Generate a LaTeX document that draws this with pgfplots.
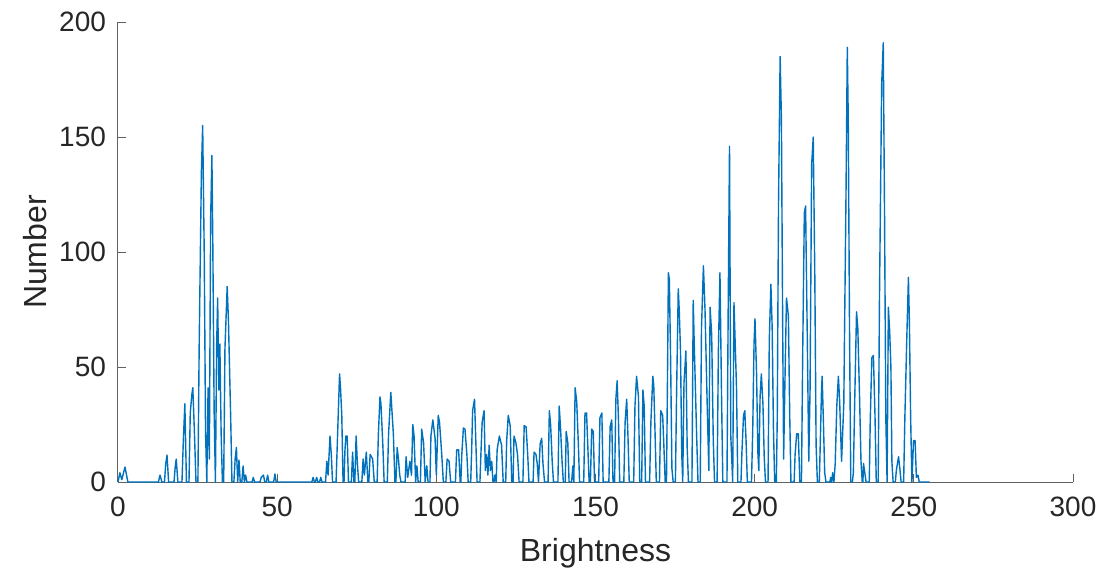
\documentclass[border=0pt]{standalone}
\usepackage{fontspec}
\setmainfont{Liberation Sans}
\usepackage{pgfplots}
\pgfplotsset{compat=1.18}
\definecolor{mblue}{rgb}{0,0.447,0.741}
\definecolor{axgray}{rgb}{0.38,0.38,0.38}
\definecolor{txtgray}{rgb}{0.15,0.15,0.15}
\begin{document}
\begin{tikzpicture}
\begin{axis}[
  scale only axis,
  width=477.5pt, height=230pt,
  xmin=0, xmax=300, ymin=0, ymax=200,
  axis lines=left,
  axis line style={-, draw=axgray, line width=0.5pt},
  tick align=inside,
  major tick length=4pt,
  tick style={draw=axgray, line width=0.5pt},
  xtick={0,50,100,150,200,250,300},
  ytick={0,50,100,150,200},
  /pgf/number format/assume math mode=true,
  ticklabel style={font=\fontsize{14}{16}\selectfont, text=txtgray},
  xticklabel style={yshift=-4pt},
  yticklabel style={xshift=-2.5pt},
  label style={font=\fontsize{16}{18}\selectfont, text=txtgray},
  xlabel={Brightness},
  ylabel={Number},
  xlabel style={at={(axis description cs:0.5,-0.155)}, anchor=center},
  ylabel style={at={(axis description cs:-0.0869,0.5)}, anchor=center},
  clip=false,
]
\addplot[mblue, line width=0.7pt, line join=round] coordinates {
(0,0)(0.6,4)(1.2,1)(2.2,6.5)(3.1,0)
(12.7,0)(13.2,3)(13.8,0)(14.6,0)(15,8)(15.4,11.7)(15.9,0)
(17.6,0)(18,7)(18.3,10)(18.8,0)
(20.1,0)(20.5,17)(21,34)(21.5,0)
(22.3,0)(22.7,30)(23.2,38)(23.5,41)(24,22)(24.5,0)
(25.1,0)(25.5,59)(26.2,135)(26.6,155)(27.1,98)(27.5,22)(27.9,0)
(28.3,41)(28.7,10)(29.1,114)(29.5,142)(29.8,101)(30.2,31)(30.6,0)
(31,60)(31.3,80)(31.7,40)(32,60)(32.4,21)(32.8,0)
(33.2,0)(33.6,58)(34.3,85)(34.7,70)(35.4,28)(35.8,0)
(36.4,0)(36.8,10)(37.2,15)(37.6,0)(38,9.5)(38.4,0)
(38.9,0)(39.3,7)(39.7,0)(40.1,3)(40.5,0)
(42.1,0)(42.5,2)(42.9,0)
(44.6,0)(45,2)(45.7,3)(46.1,0)
(46.6,0)(47,3)(47.4,0)
(48.9,0)(49.3,3.5)(49.7,0)
(60.9,0)(61.3,2)(61.7,0)(62,0)(62.4,2)(62.8,0)(63.3,0)(63.7,2)(64.1,0)
(65.2,0)(65.6,9)(66,3)(66.6,20)(67,12)(67.4,0)
(68.5,0)(68.9,17)(69.6,47)(69.9,41)(70.3,29)(70.7,0)
(71,0)(71.3,14)(71.6,20)(72,20)(72.4,0)
(73.3,0)(73.7,13)(74.1,0)(74.4,0)(74.8,20)(75.2,8)(75.6,0)
(76.6,0)(77,10)(77.4,3)(78,13)(78.5,0)(78.8,0)(79.2,12)(80,10)(80.5,0)
(81.4,0)(81.8,21)(82.3,37)(82.6,34)(83.2,16)(83.6,0)
(84.6,0)(85,21)(85.7,39)(86.5,21)(87,0)(87.3,0)(87.7,15)(88.1,10)(88.5,3)(88.9,0)
(90.2,0)(90.5,11)(91,2)(91.7,9)(92.2,3)(92.6,25)(93,20)(93.5,0)(93.9,7)(94.3,0)
(95,0)(95.4,23)(96,17)(96.5,0)(97,7)(97.4,0)
(98,0)(98.3,20)(98.9,27)(99.6,19)(100,3)(100.6,29)(101,26)(101.7,12)(102.2,0)
(103,0)(103.4,10)(104,9)(104.5,0)
(106,0)(106.4,14)(107,14)(107.5,0)
(107.7,0)(108,12)(108.5,23.5)(109,23)(109.6,12)(110,0)
(110.8,0)(111.1,14)(111.4,31)(112,36)(112.4,18)(112.8,0)
(113.7,0)(114,12)(114.4,26)(115,31)(115.4,5)(115.8,12)(116.2,3)(116.6,16)(117,5)(117.4,9)(117.8,0)
(118.1,0)(118.4,3)(118.8,0)(119.1,14)(119.8,20)(120.5,16)(121,0)
(121.8,0)(122.1,18)(122.6,29)(123.2,24.5)(123.7,0)
(124.1,0)(124.4,20)(125,17)(125.5,12)(126,0)
(127.2,0)(127.6,24.5)(128.2,24)(128.7,12)(129.1,0)
(130.4,0)(130.7,13)(131.3,12)(131.7,8)(132.1,0)(132.6,16.5)(133.1,19)(133.5,8)(134,0)
(135.1,0)(135.5,31)(135.9,25)(136.4,9)(136.8,0)
(138.2,0)(138.6,33)(139,24)(139.5,9)(139.9,0)
(140.5,0)(140.8,22)(141.3,17)(141.7,0)
(142.5,0)(142.9,7)(143.2,0)(143.6,41)(144.1,35)(144.6,17)(145,0)
(146.3,0)(146.7,30)(147.2,30)(147.6,15)(148,0)
(148.4,0)(148.8,23)(149.3,22)(149.7,0)
(151,0)(151.4,28)(152,30)(152.4,0)
(154.2,0)(154.6,24)(155.1,27)(155.5,0)
(156,0)(156.4,36)(156.8,44)(157.2,28)(157.6,0)
(158.9,0)(159.3,26)(159.8,36)(160.2,20)(160.6,0)
(162,0)(162.4,33)(162.9,46)(163.5,37)(163.9,0)(164.5,0)(164.9,40)(165.3,33)(165.7,0)
(167,0)(167.4,26)(168,46)(168.3,42)(168.7,22)(169.1,0)
(170.1,0)(170.5,31)(171.1,29)(171.5,15)(171.9,0)
(172.3,0)(172.6,43)(172.9,91)(173.2,88)(173.6,53)(174,6)(174.4,0)
(175.1,0)(175.5,41)(176,84)(176.3,75)(176.7,57)(177.1,12)(177.4,0)(177.8,43)(178.4,57)(178.8,15)(179.2,0)
(180.3,0)(180.7,79)(181,61)(181.8,19)(182.2,0)
(182.9,0)(183.3,67)(183.9,94)(184.4,75)(185.1,33)(185.6,5)(186,76)(186.5,64)(187,18)(187.4,0)
(188.2,0)(188.6,57)(189.1,91)(189.6,37)(190,0)
(191.3,0)(191.7,78)(192.1,146)(192.5,20)(193.1,0)(193.5,78)(194.3,41)(194.7,0)
(195.7,0)(196,13)(196.5,29)(196.9,31)(197.3,18)(197.7,0)
(199,0)(199.4,23)(199.8,60)(200.1,71)(200.6,47)(201,13)(201.3,5)(201.7,37)(202.1,47)(202.6,34)(203,11)(203.4,0)
(204.2,0)(204.6,62)(205.1,86)(205.5,67)(205.9,23)(206.3,0)
(206.8,0)(207.1,28)(207.5,122)(208,185)(208.4,158)(208.8,68)(209.1,10)(209.5,43)(210,80)(210.6,72)(211,30)(211.4,0)
(212.4,0)(212.7,12)(213.2,21)(213.7,21)(214.2,0)
(214.7,0)(215.1,57)(215.6,117)(216,120)(216.5,66)(217,9)(217.4,40)(217.9,138)(218.4,150)(218.9,89)(219.3,16)(219.7,0)
(220.3,0)(220.6,16)(221,40)(221.2,46)(221.6,26)(222,4)(222.4,0)
(223.6,0)(223.9,2)(224.2,0)(224.5,4)(224.9,0)(225.3,8)(225.8,33)(226.3,46)(226.7,35)(227.3,9)(228,34)(228.7,126)(229.1,189)(229.4,158)(229.8,66)(230.2,0)
(230.7,0)(231,4)(231.5,40)(232,74)(232.4,67)(232.9,40)(233.4,9)(233.8,0)
(234,0)(234.2,8)(234.6,4)(235,0)
(236,0)(236.3,26)(236.8,54)(237.3,55)(237.8,29)(238.2,0)
(238.8,0)(239.2,79)(239.9,173)(240.4,191)(240.8,116)(241.2,28)(241.6,0)(242,76)(242.4,66)(242.8,50)(243.1,9)(243.5,0)
(244.2,0)(244.5,5)(245.2,11)(245.6,6)(246,0)
(246.8,0)(247.2,29)(247.8,63)(248.3,89)(248.6,70)(249,28)(249.4,0)(249.9,18)(250.4,18)(250.8,2)(251.3,3)(251.7,0)
(255,0)
};
\end{axis}
\pgfresetboundingbox
\path (current axis.south west) ++(-59pt,-46.5pt) rectangle ++(555pt,287.5pt);
\end{tikzpicture}
\end{document}
